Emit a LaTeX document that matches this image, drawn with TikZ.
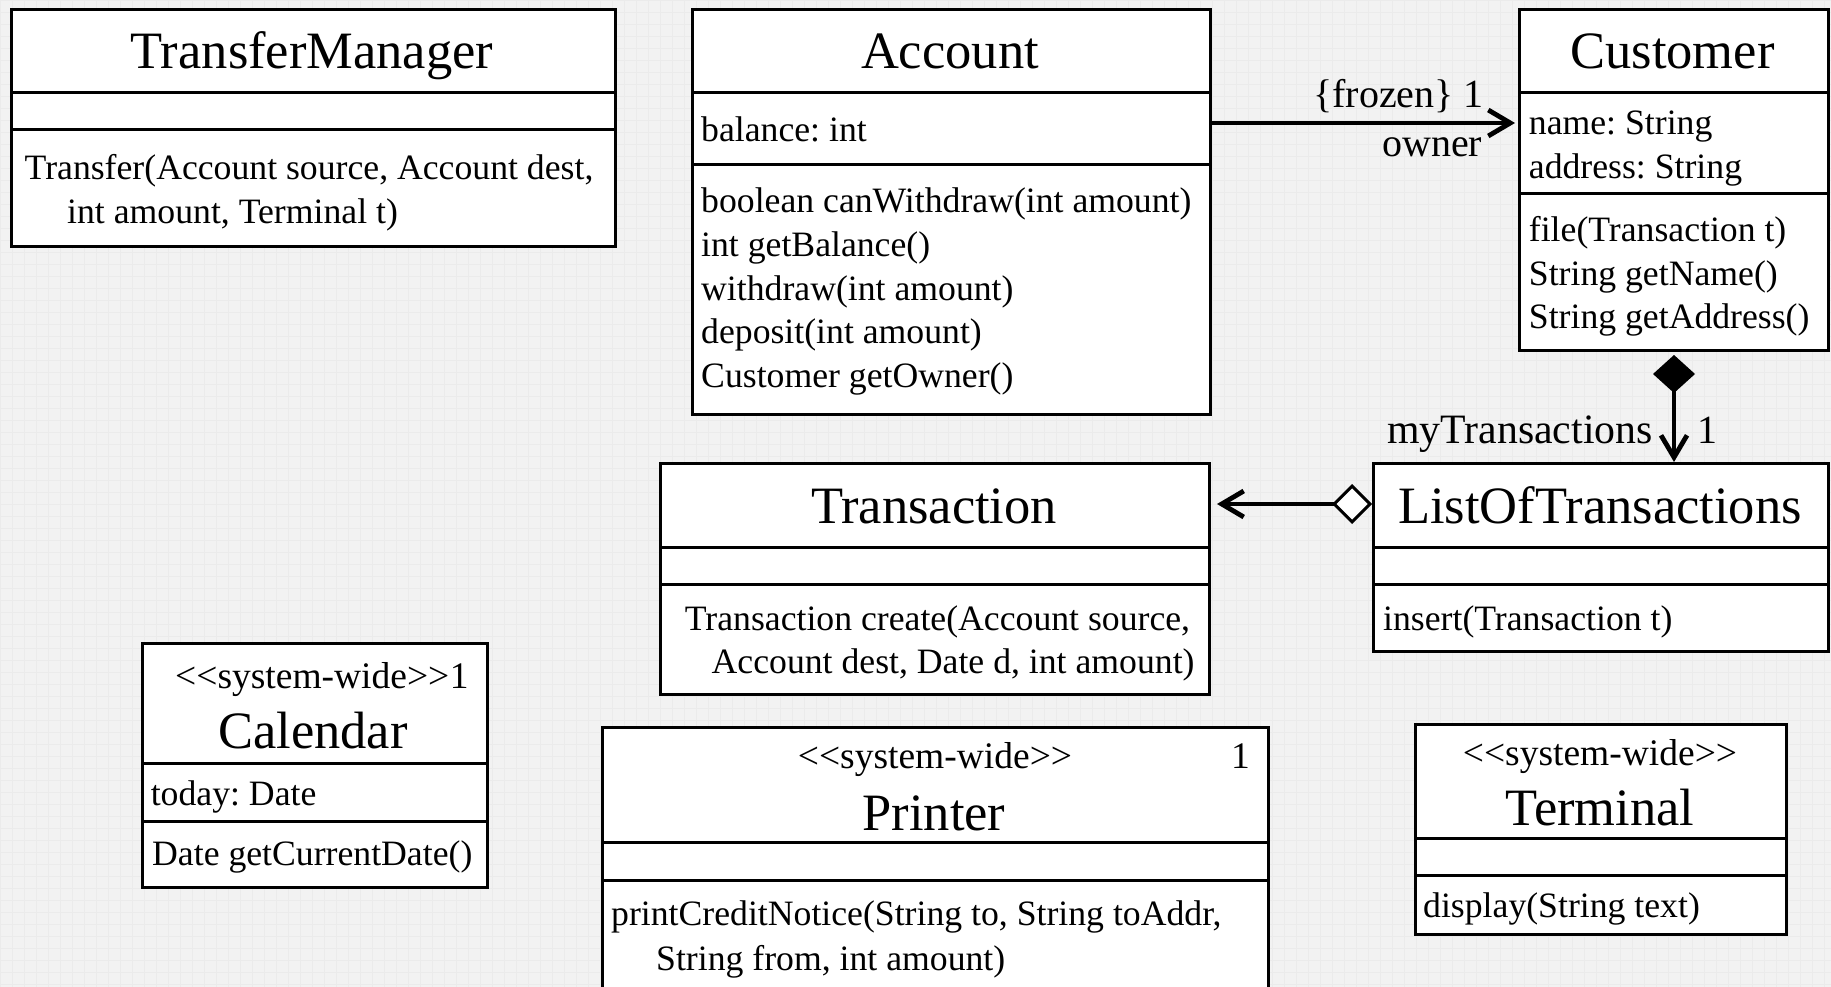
\documentclass[tikz,border=0pt]{standalone}
\usepackage{fontspec}
\setmainfont{Liberation Serif}
\usetikzlibrary{arrows.meta}
\definecolor{paper}{HTML}{F2F2F2}
\definecolor{paperline}{HTML}{EBEBEB}
\tikzset{
  box/.style={draw=black, line width=3pt, fill=white, inner sep=0pt, anchor=north west},
  sep/.style={line width=3pt},
  body/.style={inner sep=0pt, anchor=base west, font=\fontsize{35.7}{43.7}\selectfont},
  ttl/.style={inner sep=0pt, anchor=base, font=\fontsize{52.5}{60}\selectfont},
  stereo/.style={inner sep=0pt, anchor=base, font=\fontsize{37.5}{45}\selectfont},
  lbl/.style={inner sep=0pt, anchor=base west, font=\fontsize{40}{48}\selectfont},
  conn/.style={line width=4.8pt},
  barb/.tip={Straight Barb[length=22pt,width=26pt,sharp]},
  soliddia/.tip={Diamond[length=38pt,width=42pt]},
  opendia/.tip={Diamond[length=40pt,width=40pt,fill=white,line width=3pt]},
}
\newcommand\stereotype{<\kern0pt<system-wide>\kern0pt>}
\frenchspacing
\begin{document}
\begin{tikzpicture}[x=1pt,y=-1pt]
\useasboundingbox (0,0) rectangle (1831,987);
\clip (0,0) rectangle (1831,987);
% paper
\fill[paper] (0,0) rectangle (1831,987);
\foreach \g in {0,12,...,1836} \draw[paperline, line width=0.6pt] (\g,0) -- (\g,987);
\foreach \g in {0,12,...,990} \draw[paperline, line width=0.6pt] (0,\g) -- (1831,\g);

% TransferManager
\node[box, minimum width=604pt, minimum height=237pt] (tm) at (10,8) {};
\draw[sep] (tm.west |- 0,93) -- (tm.east |- 0,93);
\draw[sep] (tm.west |- 0,130) -- (tm.east |- 0,130);
\node[ttl] (tm-name) at (312,69) {TransferManager};
\node[body] (tm-op1) at (24.5,180) {Transfer(Account source, Account dest,};
\node[body] (tm-op2) at (67,223) {int amount, Terminal t)};

% Account
\node[box, minimum width=518pt, minimum height=405pt] (acc) at (691,8) {};
\draw[sep] (acc.west |- 0,93) -- (acc.east |- 0,93);
\draw[sep] (acc.west |- 0,164.5) -- (acc.east |- 0,164.5);
\node[ttl] (acc-name) at (950,69) {Account};
\node[body] (acc-at1) at (701,141.7) {balance: int};
\node[body] (acc-op1) at (701,213) {boolean canWithdraw(int amount)};
\node[body] (acc-op2) at (701,256.5) {int getBalance()};
\node[body] (acc-op3) at (701,300) {withdraw(int amount)};
\node[body] (acc-op4) at (701,343.5) {deposit(int amount)};
\node[body] (acc-op5) at (701,387) {Customer getOwner()};

% Customer
\node[box, minimum width=309pt, minimum height=341pt] (cust) at (1518,8) {};
\draw[sep] (cust.west |- 0,93) -- (cust.east |- 0,93);
\draw[sep] (cust.west |- 0,193.5) -- (cust.east |- 0,193.5);
\node[ttl] (cust-name) at (1672.5,69) {Customer};
\node[body] (cust-at1) at (1528.7,135) {name: String};
\node[body] (cust-at2) at (1528.7,179) {address: String};
\node[body] (cust-op1) at (1528.7,241.7) {file(Transaction t)};
\node[body] (cust-op2) at (1528.7,285) {String getName()};
\node[body] (cust-op3) at (1528.7,328.5) {String getAddress()};

% Transaction
\node[box, minimum width=549pt, minimum height=231pt] (trans) at (659,462) {};
\draw[sep] (trans.west |- 0,547) -- (trans.east |- 0,547);
\draw[sep] (trans.west |- 0,584) -- (trans.east |- 0,584);
\node[ttl] (trans-name) at (934,523) {Transaction};
\node[body] (trans-op1) at (684.7,630) {Transaction create(Account source,};
\node[body] (trans-op2) at (711.5,673) {Account dest, Date d, int amount)};

% ListOfTransactions
\node[box, minimum width=455pt, minimum height=188pt] (lot) at (1372,462) {};
\draw[sep] (lot.west |- 0,547) -- (lot.east |- 0,547);
\draw[sep] (lot.west |- 0,584) -- (lot.east |- 0,584);
\node[ttl] (lot-name) at (1600,523) {ListOfTransactions};
\node[body] (lot-op1) at (1383,630) {insert(Transaction t)};

% Calendar
\node[box, minimum width=345pt, minimum height=244pt] (cal) at (141,642) {};
\draw[sep] (cal.west |- 0,763) -- (cal.east |- 0,763);
\draw[sep] (cal.west |- 0,821) -- (cal.east |- 0,821);
\node[stereo, anchor=base west] (cal-st) at (175,688) {\stereotype};
\node[stereo, anchor=base west] (cal-mult) at (cal-st.base east) {1};
\node[ttl] (cal-name) at (313,748) {Calendar};
\node[body] (cal-at1) at (150.6,805) {today: Date};
\node[body] (cal-op1) at (152,865) {Date getCurrentDate()};

% Printer
\node[box, minimum width=666pt, minimum height=290pt] (prn) at (601,726) {};
\draw[sep] (prn.west |- 0,842) -- (prn.east |- 0,842);
\draw[sep] (prn.west |- 0,880) -- (prn.east |- 0,880);
\node[stereo] (prn-st) at (935,768) {\stereotype};
\node[stereo, anchor=base west] (prn-mult) at (1231,768) {1};
\node[ttl] (prn-name) at (934,830) {Printer};
\node[body] (prn-op1) at (611,925) {printCreditNotice(String to, String toAddr,};
\node[body] (prn-op2) at (656,970) {String from, int amount)};

% Terminal
\node[box, minimum width=371pt, minimum height=210pt] (term) at (1414,723) {};
\draw[sep] (term.west |- 0,838) -- (term.east |- 0,838);
\draw[sep] (term.west |- 0,875) -- (term.east |- 0,875);
\node[stereo] (term-st) at (1600,765) {\stereotype};
\node[ttl] (term-name) at (1600,825) {Terminal};
\node[body] (term-op1) at (1423,917) {display(String text)};

% associations
\draw[conn, -barb, shorten >=3pt] (acc.east |- 0,123) -- (cust.west |- 0,123);
\node[lbl] (owner-mult) at (1313,108) {\{frozen\} 1};
\node[lbl] (owner-role) at (1382,157) {owner};

\draw[conn, soliddia-barb, shorten <=3pt] (cust.south) -- (cust.south |- lot.north);
\node[lbl, font=\fontsize{41.8}{48}\selectfont] (tx-role) at (1387,443) {myTransactions};
\node[lbl] (tx-mult) at (1697,443) {1};

\draw[conn, opendia-barb, shorten >=6pt] (lot.west |- 0,504) -- (trans.east |- 0,504);
\end{tikzpicture}
\end{document}
